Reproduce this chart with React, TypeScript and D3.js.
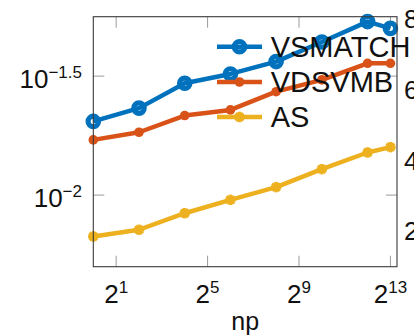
import React from "react";
import * as d3 from "d3";

// Problem sizes (np) and timings per method
const np = [1, 4, 16, 64, 256, 1024, 4096, 8192];
const vsmatch = [0.0204, 0.0232, 0.0295, 0.0323, 0.0364, 0.044, 0.0536, 0.0502];
const vdsvmb = [0.01706, 0.01837, 0.02159, 0.0228, 0.0272, 0.0305, 0.0358, 0.0358];
const asVals = [0.0067, 0.00715, 0.00839, 0.00955, 0.0108, 0.01285, 0.0151, 0.0159];

const seriesNames = ["VSMATCH", "VDSVMB", "AS"];
const seriesColors = ["#0072BD", "#D95319", "#EDB120"];
const xTickExps = [1, 5, 9, 13];
const yTicks = [
  { value: Math.pow(10, -1.5), exp: "\u22121.5" },
  { value: Math.pow(10, -2), exp: "\u22122" },
];
// tick labels of the neighbouring panel, partly visible at the right edge
const sideLabels = ["8", "6", "4", "2"];

const W = 414;
const H = 335;
const left = 93.3;
const right = 397;
const top = 16.7;
const bottom = 266.7;
const FONT = "'Liberation Sans', Arial, Helvetica, sans-serif";
const TXT = "#111";

function Marker({ kind, x, y, color }: { kind: number; x: number; y: number; color: string }) {
  if (kind === 0) {
    return <circle cx={x} cy={y} r={5.2} fill="none" stroke={color} strokeWidth={5.2} />;
  }
  if (kind === 1) {
    return <circle cx={x} cy={y} r={4.8} fill={color} />;
  }
  const s = 5.2;
  const d = s * 0.72;
  return (
    <g stroke={color} strokeWidth={3.4} strokeLinecap="butt">
      <line x1={x - s} y1={y} x2={x + s} y2={y} />
      <line x1={x} y1={y - s} x2={x} y2={y + s} />
      <line x1={x - d} y1={y - d} x2={x + d} y2={y + d} />
      <line x1={x - d} y1={y + d} x2={x + d} y2={y - d} />
    </g>
  );
}

export default function App() {
  const x = d3.scaleLog().base(2).domain([1, 10000]).range([left, right]);
  const y = d3.scaleLog().domain([0.005, 0.0562]).range([bottom, top]);
  const all = [vsmatch, vdsvmb, asVals];
  const line = d3
    .line<number>()
    .x((_, i) => x(np[i]))
    .y((d) => y(d));

  const tickLen = 11;
  const legendX0 = 217;
  const legendX1 = 262;
  const legendY = [46.7, 82, 117];

  return (
    <svg
      width={W}
      height={H}
      style={{ position: "absolute", left: 0, top: 0, background: "#fff" }}
      fontFamily={FONT}
    >
      <rect x={0} y={0} width={W} height={H} fill="#fff" />

      {/* ticks on all four sides */}
      <g stroke="#9a9a9a" strokeWidth={1}>
        {xTickExps.map((e) => {
          const px = x(Math.pow(2, e));
          return (
            <g key={"xt" + e}>
              <line x1={px} x2={px} y1={bottom} y2={bottom - tickLen} />
              <line x1={px} x2={px} y1={top} y2={top + tickLen} />
            </g>
          );
        })}
        {yTicks.map((t, i) => {
          const py = y(t.value);
          return (
            <g key={"yt" + i}>
              <line x1={left} x2={left + tickLen} y1={py} y2={py} />
              <line x1={right} x2={right - tickLen} y1={py} y2={py} />
            </g>
          );
        })}
      </g>

      {/* data lines and markers */}
      {all.map((vals, si) => (
        <g key={"s" + si}>
          <path d={line(vals) || ""} fill="none" stroke={seriesColors[si]} strokeWidth={4.5} strokeLinejoin="round" />
          {vals.map((v, i) => (
            <Marker key={i} kind={si} x={x(np[i])} y={y(v)} color={seriesColors[si]} />
          ))}
        </g>
      ))}

      {/* axes box */}
      <rect x={left} y={top} width={right - left} height={bottom - top} fill="none" stroke="#3a3a3a" strokeWidth={1.1} />

      {/* y tick labels */}
      {yTicks.map((t, i) => {
        const py = y(t.value);
        return (
          <text key={"yl" + i} x={82} y={py + 12} textAnchor="end" fill={TXT}>
            <tspan fontSize={26}>10</tspan>
            <tspan fontSize={17} dy={-10.5}>{t.exp}</tspan>
          </text>
        );
      })}

      {/* x tick labels */}
      {xTickExps.map((e) => {
        const px = x(Math.pow(2, e));
        return (
          <text key={"xl" + e} x={px} y={302.7} textAnchor="middle" fill={TXT}>
            <tspan fontSize={26}>2</tspan>
            <tspan fontSize={17} dy={-9.5}>{String(e)}</tspan>
          </text>
        );
      })}

      <text x={(left + right) / 2} y={330} textAnchor="middle" fontSize={25} fill={TXT}>
        np
      </text>

      {/* legend */}
      {seriesNames.map((name, i) => (
        <g key={"lg" + i}>
          <line x1={legendX0} x2={legendX1} y1={legendY[i]} y2={legendY[i]} stroke={seriesColors[i]} strokeWidth={4.5} />
          <Marker kind={i} x={(legendX0 + legendX1) / 2} y={legendY[i]} color={seriesColors[i]} />
          <text x={270.7} y={legendY[i] + 10.4} fontSize={29} fill={TXT}>
            {name}
          </text>
        </g>
      ))}

      {/* neighbouring panel labels */}
      {sideLabels.map((s, i) => (
        <text key={"sl" + i} x={404} y={28.3 + i * 70.6} fontSize={26} fill={TXT}>
          {s}
        </text>
      ))}
    </svg>
  );
}
